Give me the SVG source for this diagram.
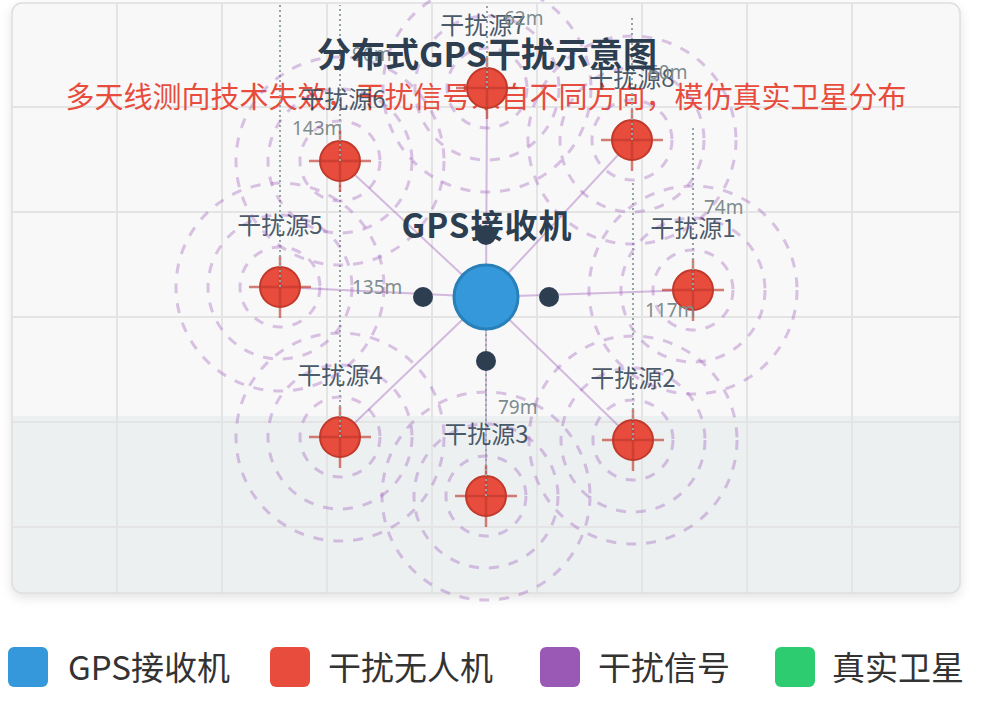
<svg xmlns="http://www.w3.org/2000/svg" width="1000" height="713" viewBox="0 0 1000 713">
<defs>
<filter id="shadow" x="-5%" y="-5%" width="110%" height="115%"><feDropShadow dx="0" dy="4" stdDeviation="6" flood-color="#000" flood-opacity="0.12"/></filter>
<clipPath id="cardClip"><rect x="12" y="3" width="948" height="590" rx="10"/></clipPath>
<style>
.grid line{stroke:#e4e4e4;stroke-width:2}
.range{fill:none;stroke:#9b59b6;stroke-opacity:0.35;stroke-width:3;stroke-dasharray:10 10}
.signal{stroke:#9b59b6;stroke-opacity:0.4;stroke-width:2}
.drone{fill:#e74c3c;stroke:#c0392b;stroke-width:2}
.cross{stroke:#c0392b;stroke-opacity:0.65;stroke-width:2.5}
.alt{stroke:#95a5a6;stroke-width:2;stroke-dasharray:2 3}
.altlbl{font-family:"Noto Sans","Noto Sans CJK SC",sans-serif;font-size:19px;fill:#7f8c8d}
.lbl{font-family:"Noto Sans CJK SC",sans-serif;font-size:24px;fill:#2c3e50;fill-opacity:0.85;text-anchor:middle}
.ant{fill:#2c3e50}
.legtxt{font-family:"Noto Sans CJK SC",sans-serif;font-size:33px;fill:#333}
</style>
</defs>
<rect width="1000" height="713" fill="#ffffff"/>
<g id="card">
<rect x="12" y="3" width="948" height="590" rx="10" fill="#f8f8f8" filter="url(#shadow)"/>
<g clip-path="url(#cardClip)">
<rect x="12" y="416" width="948" height="177" fill="#ecf0f1"/>
<g class="grid">
<line x1="117" y1="3" x2="117" y2="593"/><line x1="222" y1="3" x2="222" y2="593"/><line x1="327" y1="3" x2="327" y2="593"/><line x1="432" y1="3" x2="432" y2="593"/><line x1="537" y1="3" x2="537" y2="593"/><line x1="642" y1="3" x2="642" y2="593"/><line x1="747" y1="3" x2="747" y2="593"/><line x1="852" y1="3" x2="852" y2="593"/>
<line x1="12" y1="107" x2="960" y2="107"/><line x1="12" y1="212" x2="960" y2="212"/><line x1="12" y1="317" x2="960" y2="317"/><line x1="12" y1="422" x2="960" y2="422"/><line x1="12" y1="527" x2="960" y2="527"/>
</g>
</g>
<rect x="12" y="3" width="948" height="590" rx="10" fill="none" stroke="#dedede" stroke-width="1.5"/>
</g>
<text id="subtitle" x="486" y="108" text-anchor="middle" font-family="Noto Sans CJK SC, sans-serif" font-size="29" fill="#e74c3c">多天线测向技术失效，干扰信号来自不同方向，模仿真实卫星分布</text>
<g id="connectors">
<line class="signal" x1="486" y1="297" x2="693" y2="290"/>
<line class="signal" x1="486" y1="297" x2="633" y2="440"/>
<line class="signal" x1="486" y1="297" x2="486" y2="496"/>
<line class="signal" x1="486" y1="297" x2="340" y2="437"/>
<line class="signal" x1="486" y1="297" x2="280" y2="287"/>
<line class="signal" x1="486" y1="297" x2="340" y2="161"/>
<line class="signal" x1="486" y1="297" x2="487" y2="88"/>
<line class="signal" x1="486" y1="297" x2="632" y2="140"/>
</g>
<g id="jammer1">
<circle class="range" cx="693" cy="290" r="40"/><circle class="range" cx="693" cy="290" r="72"/><circle class="range" cx="693" cy="290" r="104"/>
<circle class="drone" cx="693" cy="290" r="20"/>
<line class="cross" x1="662" y1="290" x2="724" y2="290"/><line class="cross" x1="693" y1="259" x2="693" y2="321"/>
<line class="alt" x1="693" y1="290" x2="693" y2="127"/>
<text class="lbl" x="693" y="237">干扰源1</text>
<text class="altlbl" x="704" y="214">74m</text>
</g>
<g id="jammer2">
<circle class="range" cx="633" cy="440" r="40"/><circle class="range" cx="633" cy="440" r="72"/><circle class="range" cx="633" cy="440" r="104"/>
<circle class="drone" cx="633" cy="440" r="20"/>
<line class="cross" x1="602" y1="440" x2="664" y2="440"/><line class="cross" x1="633" y1="409" x2="633" y2="471"/>
<line class="alt" x1="633" y1="440" x2="633" y2="183"/>
<text class="lbl" x="633" y="387">干扰源2</text>
<text class="altlbl" x="645" y="317">117m</text>
</g>
<g id="jammer3">
<circle class="range" cx="486" cy="496" r="40"/><circle class="range" cx="486" cy="496" r="72"/><circle class="range" cx="486" cy="496" r="104"/>
<circle class="drone" cx="486" cy="496" r="20"/>
<line class="cross" x1="455" y1="496" x2="517" y2="496"/><line class="cross" x1="486" y1="465" x2="486" y2="527"/>
<line class="alt" x1="486" y1="496" x2="486" y2="322"/>
<text class="lbl" x="486" y="443">干扰源3</text>
<text class="altlbl" x="498" y="414">79m</text>
</g>
<g id="jammer4">
<circle class="range" cx="340" cy="437" r="40"/><circle class="range" cx="340" cy="437" r="72"/><circle class="range" cx="340" cy="437" r="104"/>
<circle class="drone" cx="340" cy="437" r="20"/>
<line class="cross" x1="309" y1="437" x2="371" y2="437"/><line class="cross" x1="340" y1="406" x2="340" y2="468"/>
<line class="alt" x1="340" y1="437" x2="340" y2="140"/>
<text class="lbl" x="340" y="384">干扰源4</text>
<text class="altlbl" x="352" y="294">135m</text>
</g>
<g id="jammer5">
<circle class="range" cx="280" cy="287" r="40"/><circle class="range" cx="280" cy="287" r="72"/><circle class="range" cx="280" cy="287" r="104"/>
<circle class="drone" cx="280" cy="287" r="20"/>
<line class="cross" x1="249" y1="287" x2="311" y2="287"/><line class="cross" x1="280" y1="256" x2="280" y2="318"/>
<line class="alt" x1="280" y1="287" x2="280" y2="5"/>
<text class="lbl" x="280" y="234">干扰源5</text>
<text class="altlbl" x="292" y="135">143m</text>
</g>
<g id="jammer6">
<circle class="range" cx="340" cy="161" r="40"/><circle class="range" cx="340" cy="161" r="72"/><circle class="range" cx="340" cy="161" r="104"/>
<circle class="drone" cx="340" cy="161" r="20"/>
<line class="cross" x1="309" y1="161" x2="371" y2="161"/><line class="cross" x1="340" y1="130" x2="340" y2="192"/>
<line class="alt" x1="340" y1="161" x2="340" y2="5"/>
<text class="lbl" x="343" y="108">干扰源6</text>
<text class="altlbl" x="352" y="61">96m</text>
</g>
<g id="jammer7">
<circle class="range" cx="487" cy="88" r="40"/><circle class="range" cx="487" cy="88" r="72"/><circle class="range" cx="487" cy="88" r="104"/>
<circle class="drone" cx="487" cy="88" r="20"/>
<line class="cross" x1="456" y1="88" x2="518" y2="88"/><line class="cross" x1="487" y1="57" x2="487" y2="119"/>
<line class="alt" x1="487" y1="88" x2="487" y2="5"/>
<text class="lbl" x="483" y="34">干扰源7</text>
<text class="altlbl" x="504" y="25">62m</text>
</g>
<g id="jammer8">
<circle class="range" cx="632" cy="140" r="40"/><circle class="range" cx="632" cy="140" r="72"/><circle class="range" cx="632" cy="140" r="104"/>
<circle class="drone" cx="632" cy="140" r="20"/>
<line class="cross" x1="601" y1="140" x2="663" y2="140"/><line class="cross" x1="632" y1="109" x2="632" y2="171"/>
<line class="alt" x1="632" y1="140" x2="632" y2="18"/>
<text class="lbl" x="632" y="87">干扰源8</text>
<text class="altlbl" x="648" y="79">60m</text>
</g>
<g id="receiver">
<text x="487" y="238" text-anchor="middle" font-family="Noto Sans CJK SC, sans-serif" font-size="33" font-weight="bold" fill="#2c3e50" letter-spacing="1">GPS接收机</text>
<circle cx="486" cy="297" r="32" fill="#3498db" stroke="#2980b9" stroke-width="3"/>
<circle class="ant" cx="486" cy="235" r="10"/>
<circle class="ant" cx="423" cy="297" r="10"/>
<circle class="ant" cx="549" cy="297" r="10"/>
<circle class="ant" cx="486" cy="361" r="10"/>
</g>
<text id="title" x="487" y="67" text-anchor="middle" font-family="Noto Sans CJK SC, sans-serif" font-size="34" font-weight="bold" fill="#2c3e50">分布式GPS干扰示意图</text>
<g id="legend">
<rect x="8" y="647" width="40" height="40" rx="6" fill="#3498db"/>
<text class="legtxt" x="68" y="680">GPS接收机</text>
<rect x="270" y="647" width="40" height="40" rx="6" fill="#e74c3c"/>
<text class="legtxt" x="328" y="680">干扰无人机</text>
<rect x="540" y="647" width="40" height="40" rx="6" fill="#9b59b6"/>
<text class="legtxt" x="598" y="680">干扰信号</text>
<rect x="775" y="647" width="40" height="40" rx="6" fill="#2ecc71"/>
<text class="legtxt" x="832" y="680">真实卫星</text>
</g>
</svg>
